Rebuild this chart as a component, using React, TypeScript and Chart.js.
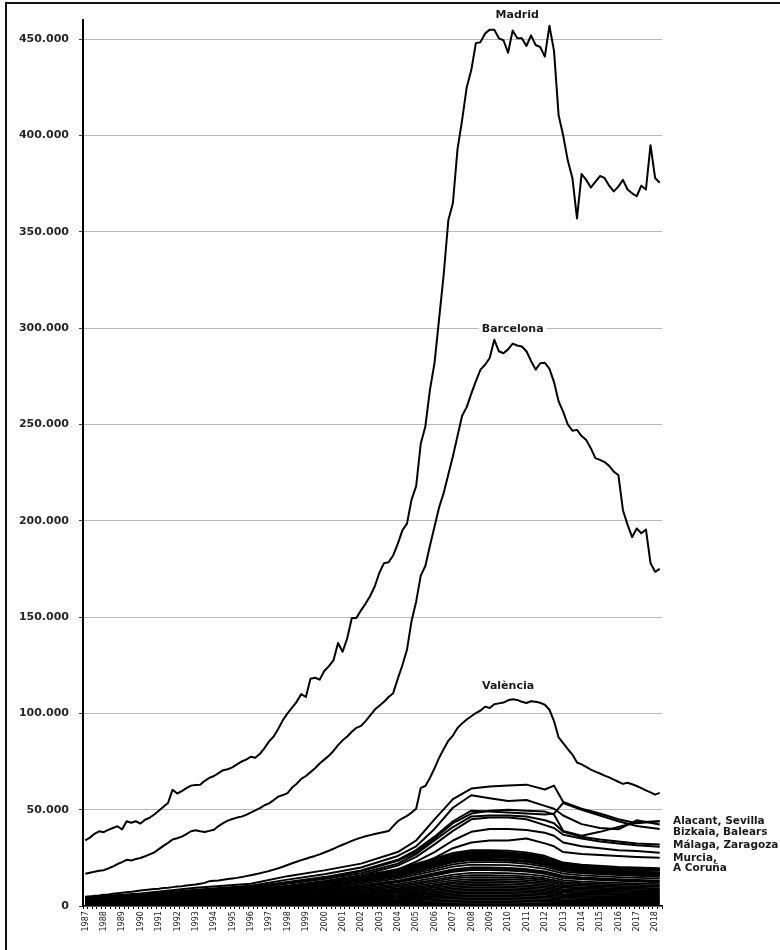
import React, { useEffect, useRef } from 'react';
import { Chart, registerables } from 'chart.js';

Chart.register(...registerables);

// ---------- categories ----------
const years = [
  1987, 1988, 1989, 1990, 1991, 1992, 1993, 1994, 1995, 1996, 1997, 1998, 1999, 2000, 2001, 2002,
  2003, 2004, 2005, 2006, 2007, 2008, 2009, 2010, 2011, 2012, 2013, 2014, 2015, 2016, 2017, 2018,
];
const quartersPerYear = [1, 2, 3, 4];
const lastQuarter = '2018-2';
const quarterLabels: string[] = [];
outer: for (const y of years) {
  for (const q of quartersPerYear) {
    const l = `${y}-${q}`;
    quarterLabels.push(l);
    if (l === lastQuarter) break outer;
  }
}

// ---------- values (thousands), quarterly ----------
const madrid = [
  34.1, 35.5, 37.5, 38.8, 38.3, 39.5, 40.5, 41.4, 39.7, 44.0, 43.2, 44.0, 42.8, 44.8, 45.8, 47.5,
  49.5, 51.5, 53.5, 60.4, 58.4, 59.6, 61.2, 62.5, 62.8, 63.0, 65.0, 66.5, 67.5, 69.0, 70.5, 71.0,
  72.0, 73.5, 75.0, 76.0, 77.5, 77.0, 79.0, 82.0, 85.5, 88.0, 92.0, 96.5, 100.0, 103.0, 106.0, 110.0,
  108.5, 118.0, 118.5, 117.5, 122.0, 124.5, 127.5, 136.5, 132.0, 139.0, 149.5, 149.5, 153.5, 157.0, 161.0, 166.0,
  173.0, 178.0, 178.5, 182.0, 188.0, 195.0, 198.5, 211.0, 218.0, 240.0, 249.0, 268.0, 282.0, 305.0, 328.0, 356.0,
  365.0, 393.0, 408.0, 425.0, 434.0, 448.0, 448.5, 453.0, 455.0, 455.0, 450.5, 449.5, 443.0, 454.5, 450.5, 450.5,
  446.5, 452.0, 447.0, 446.0, 441.0, 457.0, 444.0, 410.5, 400.0, 387.0, 378.0, 357.0, 380.0, 377.0, 373.0, 376.0,
  379.0, 378.0, 374.0, 371.0, 373.5, 377.0, 372.0, 370.0, 368.5, 374.0, 372.0, 395.0, 378.0, 375.5,
];

const barcelona = [
  16.7, 17.3, 17.8, 18.3, 18.6, 19.5, 20.5, 21.8, 22.8, 24.0, 23.6, 24.4, 24.9, 25.8, 26.8, 27.8,
  29.5, 31.2, 32.8, 34.5, 35.2, 36.0, 37.3, 38.8, 39.3, 38.8, 38.4, 39.0, 39.6, 41.5, 43.0, 44.3,
  45.2, 45.9, 46.4, 47.3, 48.5, 49.6, 50.8, 52.3, 53.3, 55.0, 56.8, 57.6, 58.6, 61.5, 63.5, 66.0,
  67.5, 69.5, 71.5, 74.0, 76.0, 78.0, 80.5, 83.5, 86.0, 88.0, 90.5, 92.5, 93.5, 96.0, 99.0, 102.0,
  104.0, 106.0, 108.5, 110.5, 118.0, 125.0, 133.0, 148.0, 158.0, 171.5, 176.5, 187.0, 197.0, 207.0, 214.5, 224.0,
  233.5, 244.0, 254.5, 259.0, 266.0, 272.5, 278.5, 281.0, 284.5, 294.0, 288.0, 287.0, 289.0, 292.0, 291.0, 290.5,
  288.0, 283.0, 278.5, 281.8, 282.0, 279.0, 272.0, 262.0, 256.5, 250.0, 246.8, 247.2, 244.0, 242.0, 237.7, 232.5,
  231.6, 230.5, 228.5, 225.5, 223.8, 205.5, 198.0, 191.5, 196.0, 193.5, 195.5, 178.0, 173.5, 175.0,
];

const valencia = [
  4.8, 5.0, 5.3, 5.5, 5.8, 6.0, 6.3, 6.6, 6.9, 7.2, 7.4, 7.7, 8.0, 8.3, 8.6, 8.8,
  9.0, 9.3, 9.5, 9.8, 10.1, 10.3, 10.6, 10.9, 11.2, 11.6, 12.0, 12.9, 13.1, 13.3, 13.6, 14.0,
  14.3, 14.6, 15.0, 15.5, 16.0, 16.5, 17.0, 17.6, 18.2, 18.9, 19.6, 20.4, 21.3, 22.2, 23.0, 23.8,
  24.5, 25.3, 26.0, 26.8, 27.8, 28.7, 29.7, 30.8, 31.8, 32.8, 33.8, 34.7, 35.5, 36.2, 36.8, 37.4,
  37.9, 38.4, 38.9, 41.5, 44.0, 45.5, 46.8, 48.5, 50.5, 61.3, 62.3, 66.5, 71.5, 77.0, 81.5, 85.8,
  88.5, 92.4, 94.8, 96.8, 98.5, 100.2, 101.5, 103.5, 102.8, 104.8, 105.2, 105.6, 106.8, 107.3, 107.0, 106.0,
  105.4, 106.3, 106.0, 105.5, 104.5, 101.9, 96.0, 87.5, 84.5, 81.5, 78.6, 74.5, 73.5, 72.2, 70.8, 69.8,
  68.8, 67.7, 66.8, 65.6, 64.5, 63.4, 64.0, 63.2, 62.3, 61.2, 60.0, 59.0, 57.8, 58.7,
];

// ---------- mid-sized provinces, sampled quarters ----------
const midSampleQuarters = [
  '1987-1', '1990-1', '1993-1', '1996-1', '1998-1', '2000-1', '2002-1', '2004-1', '2005-1', '2006-1', '2007-1', '2008-1',
  '2009-1', '2010-1', '2011-1', '2012-1', '2012-3', '2013-1', '2014-1', '2015-1', '2016-1', '2017-1', '2018-2',
];
const alacant = [4.5, 6.5, 9.5, 11.5, 15.5, 18.5, 22, 28, 34, 45, 55.5, 61, 62, 62.5, 63, 60.5, 62.5, 54, 50.5, 48, 45, 43, 44];
const bizkaia = [4.2, 6, 8.5, 10.5, 13.7, 16.5, 20, 26, 31, 40, 51, 57.5, 56, 54.5, 55, 52, 50.5, 47, 42.5, 40.5, 39.8, 44.5, 42.3];
const balears = [3.8, 5.5, 8, 10, 12.5, 15, 18.5, 24, 29, 36, 44, 49.5, 49, 48.5, 48, 47.5, 48, 53.5, 50, 47, 44, 41.5, 40];
const sevilla = [3.6, 5.2, 7.5, 9.5, 12, 14.5, 18, 23.5, 28, 35, 43, 48, 49.5, 50, 49.5, 49, 47.5, 39, 36.5, 38.5, 41, 43.5, 44];
const malaga = [3.4, 5, 7, 9, 11.5, 14, 17, 22, 27, 34, 41, 46.5, 47, 47, 46.5, 44.5, 43, 38.5, 36, 34.5, 33.5, 32.5, 31.9];
const zaragoza = [3.2, 4.8, 6.8, 8.5, 10.5, 13, 16, 21, 25.5, 32, 39, 45, 46, 46, 45, 42, 40.5, 37, 35, 33.5, 32.5, 31.5, 30.8];
const murcia = [3.0, 4.5, 6.3, 8, 10, 12, 14.5, 19, 23, 28, 34, 38.5, 40, 40, 39.5, 38, 36.5, 33, 31, 30, 29, 28.5, 27.6];
const aCoruna = [2.8, 4.2, 6, 7.5, 9.5, 11.5, 13.5, 17.5, 21, 25, 30, 33, 34, 34, 35, 32.5, 31, 28, 27, 26.5, 26, 25.5, 25];
const midProvinces: [string, number[]][] = [
  ['Alacant', alacant], ['Bizkaia', bizkaia], ['Balears', balears], ['Sevilla', sevilla],
  ['Málaga', malaga], ['Zaragoza', zaragoza], ['Murcia', murcia], ['A Coruña', aCoruna],
];

// ---------- remaining provinces, sampled quarters ----------
const smallSampleQuarters = [
  '1987-1', '1991-1', '1995-1', '1998-1', '2001-1', '2004-1', '2006-1', '2007-1', '2008-1',
  '2009-1', '2010-1', '2011-1', '2012-1', '2013-1', '2014-1', '2016-1', '2018-2',
];
const smallProvinces: [string, number[]][] = [
  ['Asturias', [3.8, 5.8, 7.8, 10.2, 13.9, 19.1, 24.7, 27.6, 29, 29, 28.7, 27.8, 26.1, 22.6, 21.5, 20.3, 19.6]],
  ['Cantabria', [3.3, 5.2, 7.2, 9.4, 13, 18.6, 24.2, 27.2, 28.6, 28.4, 28, 27, 25.4, 22.2, 21, 19.9, 19.2]],
  ['Granada', [3.6, 5.5, 7.4, 9.6, 13.2, 18.2, 23.5, 26.5, 28, 28, 27.6, 26.8, 25.2, 21.5, 20.5, 19.4, 18.8]],
  ['Cádiz', [4.2, 5.9, 7.5, 9.3, 12.8, 17.8, 23, 26, 27.3, 27.2, 26.9, 26, 24.5, 21, 20, 19, 18.2]],
  ['Tarragona', [3.5, 5.4, 7.3, 9.4, 12.9, 17.8, 23, 25.7, 27, 27, 26.8, 26.2, 24.6, 21.3, 20.3, 19.2, 18.6]],
  ['Girona', [3.2, 5, 6.9, 9, 12.6, 17.5, 22.6, 25.3, 26.6, 26.5, 26.2, 25.5, 24, 20.8, 19.6, 18.4, 17.5]],
  ['Castelló', [3.4, 5.3, 7.2, 9.2, 12.4, 17, 22, 24.8, 26, 26, 25.7, 25, 23.4, 20.2, 19.1, 18, 17]],
  ['Las Palmas', [3, 4.6, 6.4, 8.6, 12, 16.8, 21.8, 24.5, 25.8, 25.7, 25.5, 24.7, 23.2, 20, 19, 17.8, 17.2]],
  ['Santa Cruz de Tenerife', [2.9, 4.8, 6.6, 8.6, 11.9, 16.5, 21.4, 24, 25.3, 25.3, 25, 24.3, 22.8, 19.7, 18.6, 17.5, 16.6]],
  ['Gipuzkoa', [3.1, 4.9, 6.5, 8.5, 11.6, 16.2, 20.8, 23.4, 24.6, 24.5, 24.2, 23.6, 22, 19.3, 18.2, 17.1, 16.2]],
  ['Navarra', [2.8, 4.4, 6.3, 8.4, 11.5, 16, 20.5, 23, 24.2, 24.2, 24, 23.3, 21.9, 19, 17.9, 16.9, 16]],
  ['Pontevedra', [2.7, 4.5, 6.2, 8.2, 11.3, 15.6, 20.2, 22.6, 23.8, 23.7, 23.5, 22.8, 21.4, 18.6, 17.6, 16.6, 15.8]],
  ['Almería', [3, 4.6, 6.3, 8, 11, 15, 19.3, 21.6, 22.8, 22.8, 22.6, 21.9, 20.5, 17.8, 16.9, 16, 15.1]],
  ['Toledo', [2.6, 4.2, 5.8, 7.5, 10.3, 14.2, 18.2, 20.4, 21.5, 21.4, 21.2, 20.6, 19.3, 16.8, 15.9, 15, 14.2]],
  ['Valladolid', [2.8, 4.1, 5.5, 7, 9.6, 13.2, 17, 19, 20, 20, 19.8, 19.2, 18, 15.6, 14.8, 14, 13.2]],
  ['Córdoba', [2.5, 3.9, 5.2, 6.8, 9.3, 12.7, 16.4, 18.3, 19.3, 19.3, 19.1, 18.5, 17.4, 15.1, 14.3, 13.5, 12.7]],
  ['Huelva', [2.3, 3.7, 5, 6.5, 8.9, 12.3, 15.8, 17.7, 18.6, 18.6, 18.4, 17.9, 16.7, 14.5, 13.8, 13, 12.3]],
  ['Guadalajara', [2.4, 3.6, 4.7, 6, 8.3, 11.4, 14.6, 16.3, 17.2, 17.2, 17, 16.5, 15.5, 13.4, 12.7, 12, 11.4]],
  ['Badajoz', [2, 3.2, 4.3, 5.6, 7.7, 10.6, 13.6, 15.2, 16, 16, 15.8, 15.4, 14.4, 12.5, 11.8, 11.2, 10.6]],
  ['Lleida', [2.2, 3.2, 4.2, 5.3, 7.2, 9.9, 12.8, 14.3, 15, 15, 14.9, 14.4, 13.5, 11.7, 11.1, 10.5, 9.9]],
  ['León', [1.8, 2.8, 3.8, 4.9, 6.7, 9.2, 11.9, 13.3, 14, 14, 13.9, 13.4, 12.6, 10.9, 10.4, 9.8, 9.2]],
  ['Burgos', [1.9, 2.7, 3.6, 4.6, 6.2, 8.6, 11, 12.4, 13, 13, 12.9, 12.5, 11.7, 10.1, 9.6, 9.1, 8.6]],
  ['Jaén', [1.6, 2.4, 3.3, 4.3, 5.9, 8, 10.4, 11.6, 12.2, 12.2, 12.1, 11.7, 11, 9.5, 9, 8.5, 8]],
  ['Cáceres', [1.7, 2.4, 3.1, 4, 5.4, 7.5, 9.6, 10.7, 11.3, 11.3, 11.2, 10.8, 10.2, 8.8, 8.4, 7.9, 7.5]],
  ['Salamanca', [1.4, 2.1, 2.8, 3.6, 5, 6.9, 8.8, 9.9, 10.4, 10.4, 10.3, 10, 9.4, 8.1, 7.7, 7.3, 6.9]],
  ['La Rioja', [1.5, 2.1, 2.7, 3.4, 4.6, 6.3, 8.2, 9.1, 9.6, 9.6, 9.5, 9.2, 8.6, 7.5, 7.1, 6.7, 6.3]],
  ['Araba', [1.2, 1.8, 2.4, 3.1, 4.2, 5.8, 7.5, 8.4, 8.8, 8.8, 8.7, 8.4, 7.9, 6.9, 6.5, 6.2, 5.8]],
  ['Albacete', [1.3, 1.8, 2.3, 2.9, 3.8, 5.3, 6.8, 7.6, 8, 8, 7.9, 7.7, 7.2, 6.2, 5.9, 5.6, 5.3]],
  ['Ciudad Real', [1, 1.5, 2, 2.5, 3.5, 4.8, 6.1, 6.8, 7.2, 7.2, 7.1, 6.9, 6.5, 5.6, 5.3, 5, 4.8]],
  ['Lugo', [1.1, 1.4, 1.8, 2.3, 3.1, 4.2, 5.4, 6.1, 6.4, 6.4, 6.3, 6.1, 5.8, 5, 4.7, 4.5, 4.2]],
  ['Ourense', [0.8, 1.2, 1.5, 2, 2.7, 3.7, 4.8, 5.3, 5.6, 5.6, 5.5, 5.4, 5, 4.4, 4.1, 3.9, 3.7]],
  ['Huesca', [0.9, 1.1, 1.4, 1.7, 2.3, 3.2, 4.1, 4.6, 4.8, 4.8, 4.8, 4.6, 4.3, 3.7, 3.6, 3.4, 3.2]],
  ['Segovia', [0.6, 0.9, 1.1, 1.4, 1.9, 2.6, 3.4, 3.8, 4, 4, 4, 3.8, 3.6, 3.1, 3, 2.8, 2.6]],
  ['Cuenca', [0.7, 0.8, 1, 1.2, 1.6, 2.1, 2.7, 3, 3.2, 3.2, 3.2, 3.1, 2.9, 2.5, 2.4, 2.2, 2.1]],
  ['Palencia', [0.4, 0.6, 0.7, 0.9, 1.2, 1.6, 2, 2.3, 2.4, 2.4, 2.4, 2.3, 2.2, 1.9, 1.8, 1.7, 1.6]],
  ['Soria', [0.3, 0.4, 0.5, 0.6, 0.8, 1.1, 1.4, 1.5, 1.6, 1.6, 1.6, 1.5, 1.4, 1.2, 1.2, 1.1, 1.1]],
  ['Ceuta', [0.3, 0.35, 0.4, 0.45, 0.55, 0.7, 0.8, 0.85, 0.9, 0.9, 0.9, 0.85, 0.8, 0.75, 0.7, 0.7, 0.65]],
];

// ---------- axis ----------
const yMax = 460;
const yStep = 50;

// ---------- text labels (anchored to data) ----------
const inlineLabels = [
  { text: 'Madrid', quarter: '2010-3', value: 462.5, background: false },
  { text: 'Barcelona', quarter: '2010-2', value: 299.6, background: true },
  { text: 'València', quarter: '2010-1', value: 113.9, background: false },
];
const sideLabels = [
  { text: 'Alacant, Sevilla', value: 44.2 },
  { text: 'Bizkaia, Balears', value: 38.2 },
  { text: 'Málaga, Zaragoza', value: 31.5 },
  { text: 'Murcia,', value: 25.0 },
  { text: 'A Coruña', value: 19.6 },
];

const labelFont = "bold 11px 'DejaVu Sans', sans-serif";
const sideLabelFont = "bold 10.5px 'DejaVu Sans', sans-serif";
const labelColor = '#1a1a1a';

const labelsPlugin = {
  id: 'provinceLabels',
  afterDatasetsDraw(chart: any) {
    const { ctx, chartArea, scales } = chart;
    const xs = scales.x;
    const ys = scales.y;
    ctx.save();
    ctx.font = labelFont;
    ctx.textBaseline = 'middle';
    for (const l of inlineLabels) {
      const px = xs.getPixelForValue(quarterLabels.indexOf(l.quarter));
      const py = ys.getPixelForValue(l.value);
      if (l.background) {
        const w = ctx.measureText(l.text).width;
        ctx.fillStyle = '#ffffff';
        ctx.fillRect(px - w / 2 - 3, py - 7, w + 6, 14);
      }
      ctx.fillStyle = labelColor;
      ctx.textAlign = 'center';
      ctx.fillText(l.text, px, py);
    }
    ctx.font = sideLabelFont;
    ctx.textAlign = 'left';
    for (const l of sideLabels) {
      const py = ys.getPixelForValue(l.value);
      ctx.fillStyle = labelColor;
      ctx.fillText(l.text, chartArea.right + 11, py);
    }
    ctx.restore();
  },
};

function lineDataset(label: string, data: any[], width: number) {
  return {
    label,
    data,
    borderColor: '#000000',
    backgroundColor: '#000000',
    borderWidth: width,
    pointRadius: 0,
    pointHoverRadius: 0,
    tension: 0,
    fill: false,
    borderJoinStyle: 'round' as const,
  };
}

const sampled = (samples: string[], values: number[]) => values.map((v, i) => ({ x: samples[i], y: v }));

export default function App() {
  const canvasRef = useRef<HTMLCanvasElement | null>(null);

  useEffect(() => {
    if (!canvasRef.current) return;
    const datasets: any[] = [
      lineDataset('Madrid', madrid, 2),
      lineDataset('Barcelona', barcelona, 2),
      lineDataset('València', valencia, 2),
      ...midProvinces.map(([n, v]) => lineDataset(n, sampled(midSampleQuarters, v), 2)),
      ...smallProvinces.map(([n, v]) => lineDataset(n, sampled(smallSampleQuarters, v), 1.8)),
    ];
    const chart = new Chart(canvasRef.current, {
      type: 'line',
      data: { labels: quarterLabels, datasets },
      options: {
        animation: false,
        responsive: false,
        events: [],
        layout: { padding: { left: 0, top: 20, right: 118, bottom: 0 } },
        plugins: { legend: { display: false }, tooltip: { enabled: false } },
        scales: {
          x: {
            type: 'category',
            offset: true,
            grid: {
              display: true,
              drawOnChartArea: false,
              drawTicks: true,
              tickLength: 3,
              tickColor: '#000000',
              offset: true,
            },
            border: { display: true, color: '#000000', width: 1.5 },
            ticks: {
              autoSkip: false,
              maxRotation: 90,
              minRotation: 90,
              padding: 2,
              color: '#222222',
              font: { family: "'Liberation Sans Narrow', 'DejaVu Sans Condensed', 'Arial Narrow', sans-serif", size: 9 },
              callback: (_v: any, i: number) => (quarterLabels[i].endsWith('-1') ? quarterLabels[i].slice(0, 4) : ''),
            },
            afterFit: (scale: any) => {
              scale.height = 44;
            },
          },
          y: {
            type: 'linear',
            min: 0,
            max: yMax,
            grid: {
              color: '#b8b8b8',
              lineWidth: 1,
              drawTicks: true,
              tickLength: 4,
              tickColor: '#404040',
            },
            border: { display: true, color: '#000000', width: 2 },
            ticks: {
              stepSize: yStep,
              includeBounds: false,
              padding: 10,
              color: '#262626',
              font: { family: "'DejaVu Sans', sans-serif", size: 11, weight: 'bold' },
              callback: (v: any) => (Number(v) === 0 ? '0' : `${v}.000`),
            },
            afterBuildTicks: (scale: any) => {
              scale.ticks = scale.ticks.filter((t: any) => t.value % yStep === 0);
            },
            afterFit: (scale: any) => {
              scale.width = 83;
            },
          },
        },
      },
      plugins: [labelsPlugin],
    });
    return () => chart.destroy();
  }, []);

  return (
    <div style={{ position: 'fixed', left: 0, top: 0, width: 780, height: 950, overflow: 'hidden', background: '#fff' }}>
      <canvas ref={canvasRef} width={780} height={950} style={{ position: 'absolute', left: 0, top: 0 }} />
      <div
        style={{
          position: 'absolute',
          left: 5,
          top: 2,
          width: 900,
          height: 1100,
          border: '2px solid #111',
          boxSizing: 'border-box',
          pointerEvents: 'none',
        }}
      />
    </div>
  );
}
